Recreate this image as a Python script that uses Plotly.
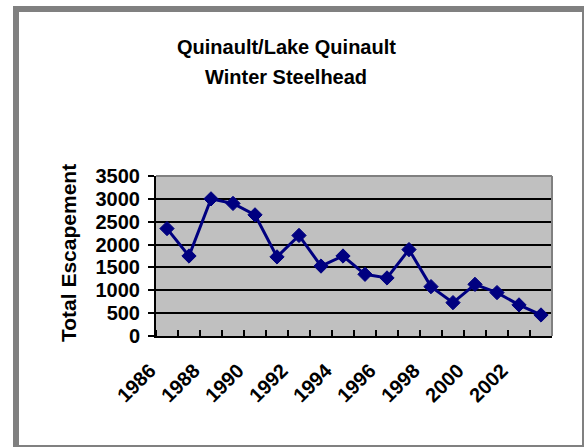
import plotly.graph_objects as go

# Winter steelhead escapement, Quinault / Lake Quinault
years = list(range(1986, 2004))
escapement = [2350, 1750, 3000, 2900, 2650, 1730, 2200, 1530, 1750,
              1350, 1270, 1890, 1080, 730, 1130, 950, 680, 460]
year_ticks = list(range(1986, 2003, 2))
title_lines = ["Quinault/Lake Quinault", "Winter Steelhead"]
y_title = "Total Escapement"

W, H = 584, 447
ML, MR, MT, MB = 156, 32, 176, 111
PW, PH = W - ML - MR, H - MT - MB


def px(x):
    return (x - ML) / PW


def py(y):
    return (H - MB - y) / PH


FONT = "Liberation Sans, Arial, sans-serif"
NAVY = "#000080"

fig = go.Figure(
    go.Scatter(
        x=years,
        y=escapement,
        mode="lines+markers",
        line=dict(color=NAVY, width=3),
        marker=dict(symbol="diamond", size=11, color=NAVY,
                    line=dict(color=NAVY, width=1)),
        hoverinfo="x+y",
    )
)

shapes = [
    # outer frame: heavy grey on left/top, thin on right/bottom
    dict(type="rect", xref="paper", yref="paper",
         x0=px(13), x1=px(584), y0=py(6), y1=py(447),
         fillcolor="#808080", line=dict(width=0), layer="below"),
    dict(type="rect", xref="paper", yref="paper",
         x0=px(19), x1=px(582), y0=py(12), y1=py(445),
         fillcolor="white", line=dict(width=0), layer="below"),
    # plot area fill
    dict(type="rect", xref="paper", yref="paper",
         x0=0, x1=1, y0=0, y1=1,
         fillcolor="#C0C0C0", line=dict(width=0), layer="below"),
    # grey plot-area border on top and right
    dict(type="line", xref="paper", yref="paper",
         x0=0, x1=1, y0=1, y1=1, line=dict(color="#808080", width=2),
         layer="above"),
    dict(type="line", xref="paper", yref="paper",
         x0=1, x1=1, y0=0, y1=1, line=dict(color="#808080", width=2),
         layer="above"),
]

annotations = [
    dict(text=f"<b>{title_lines[0]}</b>", xref="paper", yref="paper",
         x=px(286), y=py(47), xanchor="center", yanchor="middle",
         showarrow=False, font=dict(family=FONT, size=20, color="black")),
    dict(text=f"<b>{title_lines[1]}</b>", xref="paper", yref="paper",
         x=px(286), y=py(77), xanchor="center", yanchor="middle",
         showarrow=False, font=dict(family=FONT, size=20, color="black")),
    dict(text=f"<b>{y_title}</b>", xref="paper", yref="paper",
         x=px(68), y=py(253), xanchor="center", yanchor="middle",
         textangle=-90, showarrow=False,
         font=dict(family=FONT, size=21, color="black")),
]

fig.update_layout(
    width=W, height=H,
    margin=dict(l=ML, r=MR, t=MT, b=MB, pad=0),
    paper_bgcolor="white",
    plot_bgcolor="rgba(0,0,0,0)",
    showlegend=False,
    shapes=shapes,
    annotations=annotations,
    font=dict(family=FONT, color="black"),
)

fig.update_xaxes(
    range=[1985.5, 2003.5],
    tickmode="array", tickvals=year_ticks,
    ticktext=[str(v) for v in year_ticks],
    tickangle=-45,
    tickfont=dict(family=FONT, size=20, color="black", weight="bold"),
    ticks="", showgrid=False, zeroline=False,
    showline=True, linecolor="black", linewidth=2,
    ticklabelstandoff=13,
    ticklabelshift=-17,
    minor=dict(tick0=1985.5, dtick=1, ticks="inside", ticklen=6,
               tickwidth=2, tickcolor="black", showgrid=False),
)

fig.update_yaxes(
    range=[0, 3500], tick0=0, dtick=500,
    tickfont=dict(family=FONT, size=20, color="black", weight="bold"),
    ticks="outside", ticklen=6, tickwidth=2, tickcolor="black",
    showgrid=True, gridcolor="black", gridwidth=2,
    zeroline=False,
    showline=True, linecolor="black", linewidth=2,
    ticklabelstandoff=4,
)

fig.write_html("out.html")
